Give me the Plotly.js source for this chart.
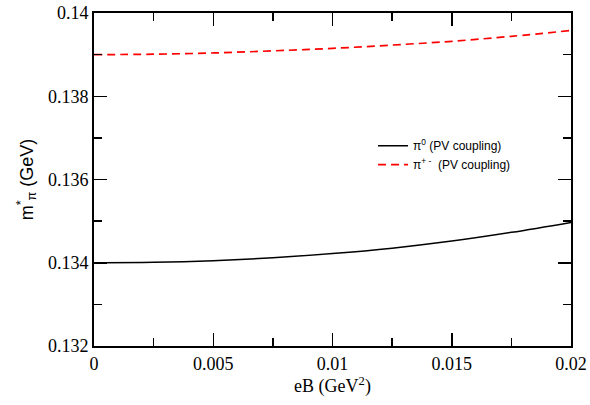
<!DOCTYPE html>
<html>
<head>
<meta charset="utf-8">
<script src="https://cdn.plot.ly/plotly-3.0.1.min.js"></script>
<style>html,body{margin:0;padding:0;background:#fff;}#chart{width:590px;height:405px;}</style>
</head>
<body>
<div id="chart"></div>
<script>
const eB = [0, 0.0025, 0.005, 0.0075, 0.01, 0.0125, 0.015, 0.0175, 0.02];
const mPi0 = [0.13400, 0.13401, 0.13405, 0.13412, 0.13422, 0.13435, 0.13452, 0.13473, 0.13497];
const mPiPM = [0.13900, 0.13901, 0.13904, 0.13909, 0.13915, 0.13923, 0.13932, 0.13944, 0.13958];
const name0 = 'π<sup>0</sup> (PV coupling)';
const namePM = 'π<sup>+ -</sup>  (PV coupling)';

const serif = 'Liberation Serif';
const sans = 'Liberation Sans';

const traces = [
  {x: eB, y: mPi0, name: name0, mode: 'lines', line: {color: '#000', width: 1.5, shape: 'spline', smoothing: 1}},
  {x: eB, y: mPiPM, name: namePM, mode: 'lines', line: {color: '#ff0000', width: 1.7, dash: '8px,5px', shape: 'spline', smoothing: 1}}
];

const axisCommon = {
  showline: true, linecolor: '#000', linewidth: 2, mirror: 'ticks',
  ticks: 'inside', ticklen: 13, tickwidth: 1.5, tickcolor: '#000',
  showgrid: false, zeroline: false,
  tickfont: {family: serif, size: 18, color: '#000'}
};

const layout = {
  width: 590, height: 405,
  margin: {l: 94, r: 19, t: 13, b: 59},
  paper_bgcolor: '#fff', plot_bgcolor: '#fff',
  font: {family: serif},
  showlegend: true,
  legend: {x: 0.585, y: 0.645, xanchor: 'left', yanchor: 'top', bgcolor: 'rgba(0,0,0,0)',
    font: {family: sans, size: 12, color: '#000'}, tracegroupgap: 0},
  xaxis: Object.assign({}, axisCommon, {
    range: [0, 0.02], tick0: 0, dtick: 0.005,
    minor: {dtick: 0.0025, ticks: 'inside', ticklen: 8, tickwidth: 1.5, tickcolor: '#000'},
    title: {text: 'eB (GeV<sup>2</sup>)', standoff: 6, font: {family: serif, size: 18, color: '#000'}}
  }),
  yaxis: Object.assign({}, axisCommon, {
    range: [0.132, 0.14], tick0: 0.132, dtick: 0.002,
    minor: {dtick: 0.001, ticks: 'inside', ticklen: 8, tickwidth: 1.5, tickcolor: '#000'},
    title: {text: 'm<sup>*</sup><sub>π</sub> (GeV)', standoff: 10, font: {family: sans, size: 18, color: '#000'}}
  })
};

Plotly.newPlot('chart', traces, layout, {displayModeBar: false, staticPlot: true});
</script>
</body>
</html>
